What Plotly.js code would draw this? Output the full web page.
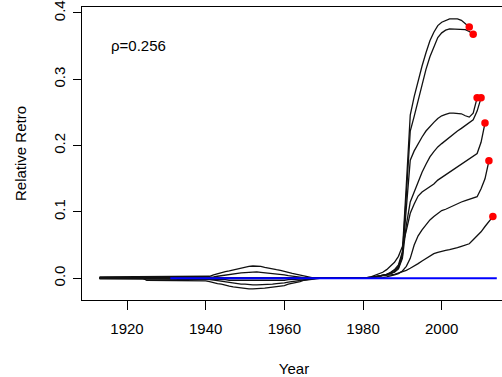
<!DOCTYPE html>
<html>
<head>
<meta charset="utf-8">
<script src="https://cdn.plot.ly/plotly-3.0.1.min.js"></script>
<style>
html, body { margin:0; padding:0; overflow:hidden; background:#fff; }
#chart { width:506px; height:377px; }
</style>
</head>
<body>
<div id="chart"></div>
<script>
// ---- data ----
const startYear = 1913;
const baseYears = [1931, 2014];
const baseValues = [0, 0];
const rhoLabel = "\u03c1=0.256";
const xTickVals = [1920, 1940, 1960, 1980, 2000];
const yTickVals = [0, 0.1, 0.2, 0.3, 0.4];
const yTickText = ["0.0", "0.1", "0.2", "0.3", "0.4"];

// peel ending 2007
const peel2007 = [
 0.002,0.002,0.002,0.002,0.002,0.002,0.002,0.002,0.002,0.002,0.002,0.002,0.002,0.002,0.002,0.002,0.002,0.002,0.002,0.002,0.002,0.002,0.002,0.002,0.002,0.002,0.002,
 0.002,0.003,0.005,0.007,0.008,0.010,0.011,0.0125,0.014,0.016,
 0.017,0.018,0.0185,0.0186,0.018,0.0165,0.015,0.014,0.013,0.012,
 0.010,0.009,0.0075,0.006,0.0045,0.003,0.002,0.001,0,0,
 0,0,0,0,0,0,0,0,0,0,
 0,0,0.001,0.002,0.003,0.004,0.006,0.009,0.013,0.020,
 0.040,0.140,0.246,0.274,0.298,0.320,0.340,0.358,0.371,0.381,
 0.386,0.389,0.391,0.391,0.391,0.389,0.384,0.379];
// peel ending 2008
const peel2008 = [
 0.001,0.001,0.001,0.001,0.001,0.001,0.001,0.001,0.001,0.001,0.001,0.001,0.001,0.001,0.001,0.001,0.001,0.001,0.001,0.001,0.001,0.001,0.001,0.001,0.001,0.001,0.001,
 0.001,0.001,0.002,0.003,0.004,0.005,0.006,0.007,0.0075,0.008,
 0.0085,0.009,0.009,0.0095,0.009,0.0085,0.008,0.0075,0.007,0.006,
 0.005,0.004,0.003,0.0025,0.002,0.001,0.0005,0,0,0,
 0,0,0,0,0,0,0,0,0,0,
 0,0,0.001,0.002,0.003,0.004,0.005,0.008,0.012,0.018,
 0.036,0.125,0.222,0.244,0.268,0.292,0.315,0.334,0.350,0.363,
 0.370,0.374,0.376,0.376,0.376,0.376,0.375,0.372,0.368];
// peel ending 2009
const peel2009 = [
 0,0,0,0,0,0,0,0,0,0,0,0,0,0,0,0,0,0,0,0,0,0,0,0,0,0,0,
 0,0,0,0,0,0,0,0,0,0,
 0,0,0,0,0,0,0,0,0,0,
 0,0,0,0,0,0,0,0,0,0,
 0,0,0,0,0,0,0,0,0,0,
 0,0,0.001,0.002,0.003,0.004,0.005,0.007,0.010,0.016,
 0.033,0.110,0.178,0.192,0.203,0.213,0.222,0.229,0.235,0.241,
 0.245,0.247,0.249,0.249,0.249,0.248,0.245,0.243,0.249,0.272];
// peel ending 2010
const peel2010 = [
 -0.001,-0.001,-0.001,-0.001,-0.001,-0.001,-0.001,-0.001,-0.001,-0.001,-0.001,-0.001,-0.001,-0.001,-0.001,-0.001,-0.001,-0.001,-0.001,-0.001,-0.001,-0.001,-0.001,-0.001,-0.001,-0.001,-0.001,
 -0.001,-0.001,-0.001,-0.002,-0.002,-0.002,-0.003,-0.003,-0.003,-0.004,
 -0.004,-0.004,-0.004,-0.004,-0.004,-0.004,-0.004,-0.003,-0.003,-0.003,
 -0.003,-0.002,-0.002,-0.002,-0.001,-0.001,-0.001,0,0,0,
 0,0,0,0,0,0,0,0,0,0,
 0,0,0.001,0.002,0.003,0.004,0.005,0.007,0.009,0.014,
 0.030,0.080,0.115,0.130,0.146,0.160,0.172,0.183,0.191,0.198,
 0.203,0.208,0.213,0.217,0.222,0.226,0.230,0.234,0.239,0.252,
 0.272];
// peel ending 2011
const peel2011 = [
 0.001,0.001,0.001,0.001,0.001,0.001,0.001,0.001,0.001,0.001,0.001,0.001,0.001,0.001,0.001,0.001,0.001,0.001,0.001,0.001,0.001,0.001,0.001,0.001,0.001,0.001,0.001,
 -0.001,-0.002,-0.003,-0.004,-0.005,-0.006,-0.007,-0.008,-0.008,-0.009,
 -0.009,-0.010,-0.010,-0.010,-0.010,-0.010,-0.009,-0.009,-0.008,-0.008,
 -0.007,-0.006,-0.005,-0.004,-0.003,-0.002,-0.001,0,0,0,
 0,0,0,0,0,0,0,0,0,0,
 0,0.001,0.002,0.004,0.006,0.009,0.013,0.018,0.024,0.033,
 0.048,0.072,0.098,0.112,0.124,0.130,0.134,0.138,0.142,0.148,
 0.152,0.156,0.160,0.163,0.167,0.171,0.175,0.179,0.183,0.188,
 0.205,0.234];
// peel ending 2012
const peel2012 = [
 0,0,0,0,0,0,0,0,0,0,0,0,
 -0.003,-0.003,-0.003,-0.003,-0.003,-0.003,-0.003,-0.003,-0.003,-0.003,-0.003,-0.003,-0.003,-0.003,-0.003,
 -0.004,-0.005,-0.007,-0.008,-0.009,-0.011,-0.012,-0.013,-0.014,-0.015,
 -0.0155,-0.016,-0.016,-0.016,-0.0155,-0.015,-0.014,-0.0135,-0.013,-0.012,
 -0.011,-0.009,-0.008,-0.006,-0.005,-0.003,-0.002,-0.001,0,0,
 0,0,0,0,0,0,0,0,0,0,
 0,0,0,0.001,0.001,0.001,0.002,0.003,0.005,0.007,
 0.011,0.018,0.030,0.050,0.064,0.073,0.081,0.088,0.093,0.098,
 0.102,0.104,0.107,0.110,0.112,0.115,0.117,0.119,0.121,0.123,
 0.135,0.150,0.177];
// peel ending 2013
const peel2013 = [
 0,0,0,0,0,0,0,0,0,0,0,0,0,0,0,0,0,0,0,0,0,0,0,0,0,0,0,
 0,0,0,0,0,0,0,0,0,0,
 0,0,0,0,0,0,0,0,0,0,
 0,0,0,0,0,0,0,0,0,0,
 0,0,0,0,0,0,0,0,0,0,
 0,0.001,0.002,0.002,0.003,0.004,0.004,0.005,0.006,0.008,
 0.009,0.012,0.015,0.018,0.022,0.026,0.030,0.034,0.037,0.039,
 0.041,0.042,0.043,0.044,0.046,0.048,0.050,0.052,0.058,0.064,
 0.070,0.078,0.085,0.093];

const peels = [peel2007, peel2008, peel2009, peel2010, peel2011, peel2012, peel2013];

// ---- traces ----
const traces = [];
const endX = [], endY = [];
peels.forEach(vals => {
  const yrs = vals.map((v, i) => startYear + i);
  traces.push({x: yrs, y: vals, type: 'scatter', mode: 'lines',
    line: {color: '#111', width: 1.3}, hoverinfo: 'skip', showlegend: false});
  endX.push(yrs[yrs.length - 1]);
  endY.push(vals[vals.length - 1]);
});
traces.push({x: baseYears, y: baseValues, type: 'scatter', mode: 'lines',
  line: {color: '#0000ff', width: 2}, showlegend: false});
traces.push({x: endX, y: endY, type: 'scatter', mode: 'markers',
  marker: {color: '#ff0000', size: 7.5}, showlegend: false});

const fontFam = 'Liberation Sans, Arial, sans-serif';
const layout = {
  width: 506, height: 377,
  margin: {l: 82, r: 0, t: 7, b: 77, pad: 0},
  paper_bgcolor: '#fff', plot_bgcolor: '#fff',
  font: {family: fontFam, size: 15, color: '#000'},
  showlegend: false,
  xaxis: {
    range: [1908.56, 2016.34], tickmode: 'array', tickvals: xTickVals,
    showgrid: false, zeroline: false, showline: true, mirror: true,
    linecolor: '#000', linewidth: 1, ticks: 'outside', ticklen: 9,
    tickcolor: '#000', tickwidth: 1, tickfont: {size: 15, family: fontFam},
    ticklabelstandoff: 6,
    title: {text: 'Year', font: {size: 15, family: fontFam}, standoff: 28}
  },
  yaxis: {
    range: [-0.0328, 0.409], tickmode: 'array', tickvals: yTickVals, ticktext: yTickText,
    tickangle: -90,
    showgrid: false, zeroline: false, showline: true, mirror: true,
    linecolor: '#000', linewidth: 1, ticks: 'outside', ticklen: 8,
    tickcolor: '#000', tickwidth: 1, tickfont: {size: 15, family: fontFam},
    ticklabelstandoff: 2,
    title: {text: 'Relative Retro', font: {size: 15, family: fontFam}, standoff: 20}
  },
  annotations: [{
    text: rhoLabel, xref: 'paper', yref: 'paper', x: 0.0637, y: 0.870,
    xanchor: 'left', yanchor: 'middle', showarrow: false,
    font: {size: 15, family: fontFam, color: '#000'}
  }]
};

Plotly.newPlot('chart', traces, layout, {staticPlot: true, displayModeBar: false});
</script>
</body>
</html>
